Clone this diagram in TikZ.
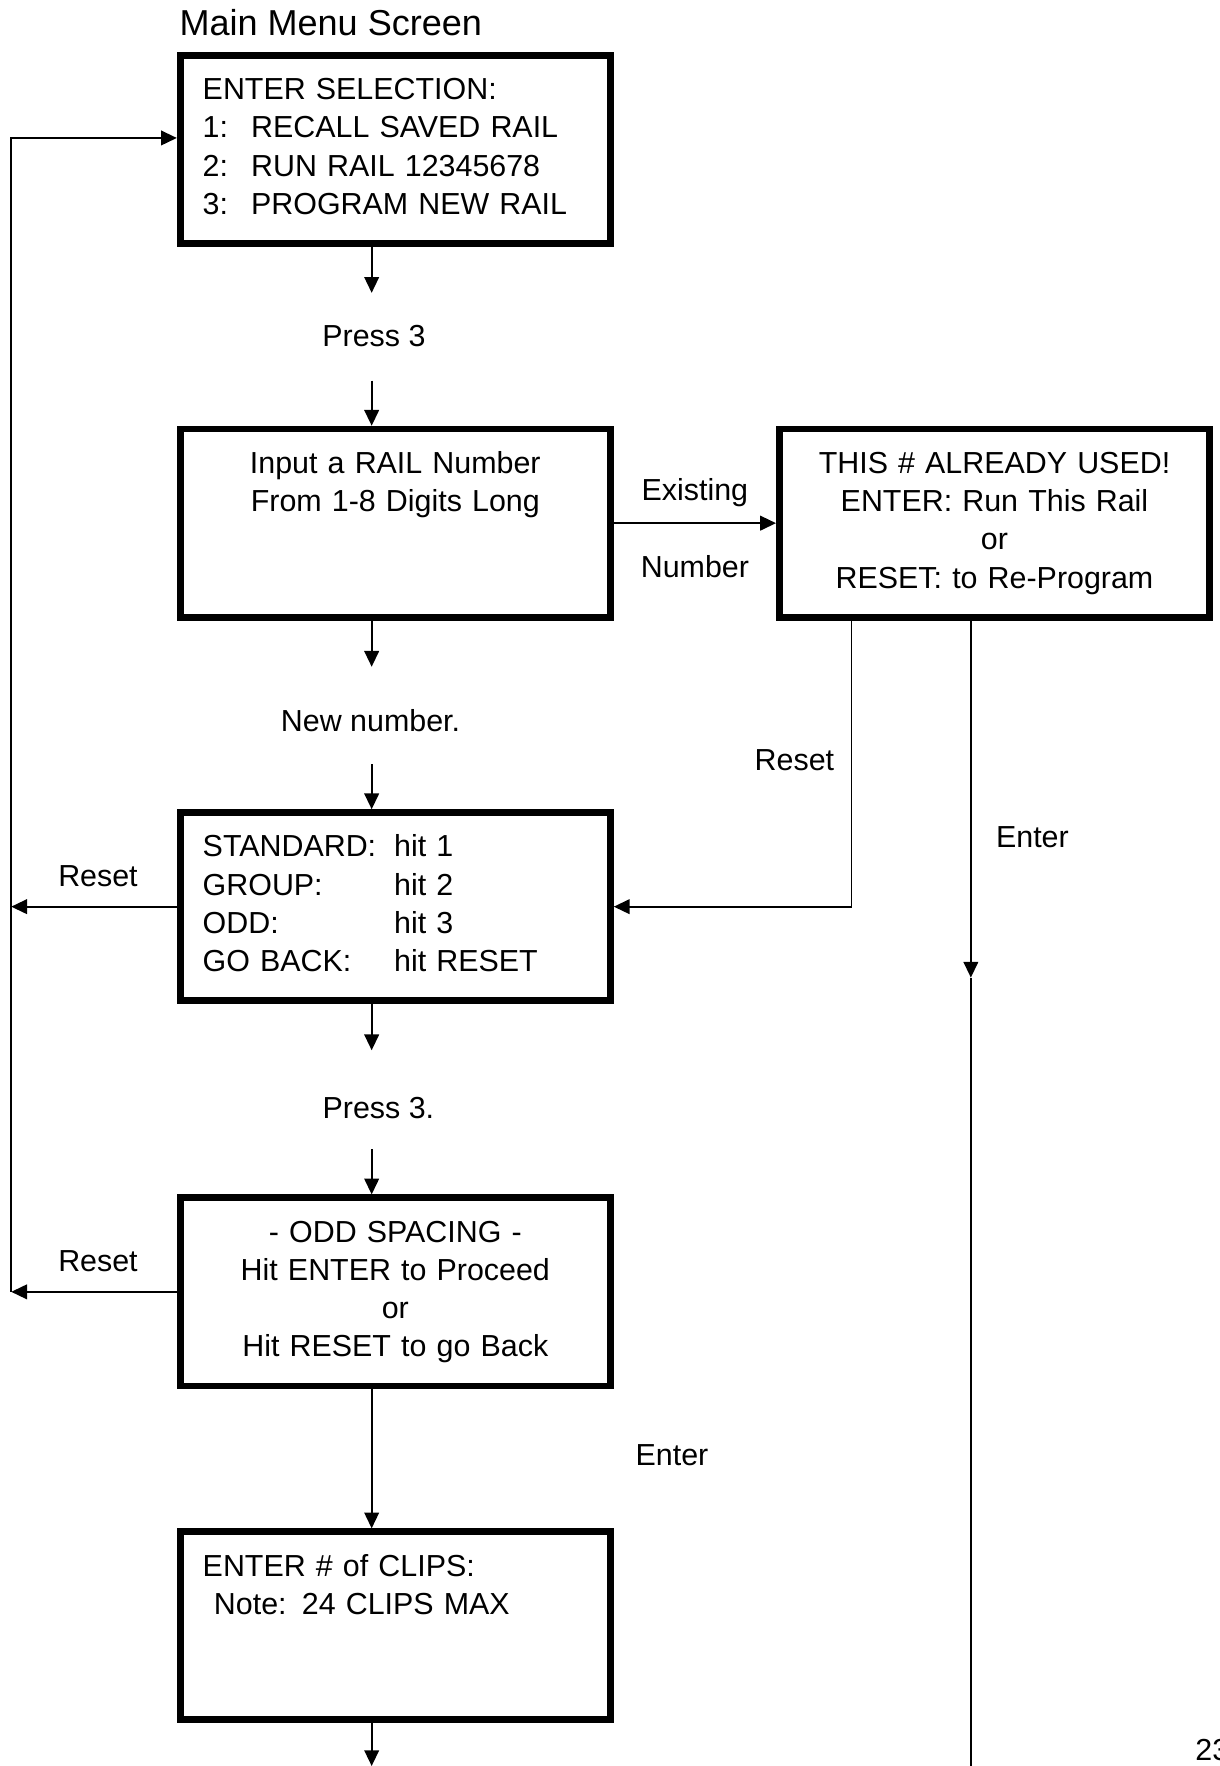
\documentclass[tikz,border=0pt]{standalone}
\usepackage{fontspec}
\setmainfont{Liberation Sans}
\usetikzlibrary{arrows.meta,calc}
\begin{document}
\begin{tikzpicture}[x=0.5pt,y=-0.5pt,
  txt/.style={font=\fontsize{13.5}{17}\selectfont},
  box/.style={txt, draw, line width=3pt, minimum width=191pt, minimum height=83.5pt,
    text width=171pt, inner xsep=10pt, inner ysep=0pt,
    execute at begin node=\strut, execute at end node=\strut},
  lbox/.style={box, align=left},
  cbox/.style={box, align=center},
  lab/.style={txt, inner sep=0pt},
  arr/.style={line width=0.8pt, -{Triangle[length=7pt,width=6.5pt]}},
  ln/.style={line width=0.8pt}]
\useasboundingbox (0,0) rectangle (1083,1568);

\node[lab, font=\fontsize{16}{19}\selectfont, anchor=west] (title) at (159,20) {Main Menu Screen};

\node[lbox] (b1) at (351,132.5) {ENTER SELECTION:\\\makebox[21.5pt][l]{1:}RECALL SAVED RAIL\\\makebox[21.5pt][l]{2:}RUN RAIL 12345678\\\makebox[21.5pt][l]{3:}PROGRAM NEW RAIL};
\node[cbox] (b2) at (351,464.5) {Input a RAIL Number\\From 1-8 Digits Long\\\strut\\\strut};
\node[cbox] (b3) at (883,464.5) {THIS \# ALREADY USED!\\ENTER: Run This Rail\\or\\RESET: to Re-Program};
\node[lbox] (b4) at (351,805) {\makebox[85pt][l]{STANDARD:}hit 1\\\makebox[85pt][l]{GROUP:}hit 2\\\makebox[85pt][l]{ODD:}hit 3\\\makebox[85pt][l]{GO BACK:}hit RESET};
\node[cbox] (b5) at (351,1147) {- ODD SPACING -\\Hit ENTER to Proceed\\or\\Hit RESET to go Back};
\node[lbox] (b6) at (351,1443.5) {ENTER \# of CLIPS:\\\hspace*{5pt}Note: 24 CLIPS MAX\\\strut\\\strut};

\node[lab] (p1) at (332,298) {Press 3};
\node[lab] (p2) at (329,640) {New number.};
\node[lab] (p3) at (336,984) {Press 3.};

\coordinate (col) at (330,0);
\coordinate (lcol) at (10,0);
\coordinate (rcol) at (756,0);
\coordinate (emid) at (862,868);
\coordinate (ebot) at (862,1570);
\coordinate (fbot) at (330,1568);

% main column
\draw[arr] (b1.south -| col) -- ++(0,41);
\draw[arr] ($(b2.north -| col)+(0,-40)$) -- (b2.north -| col);
\draw[arr] (b2.south -| col) -- ++(0,41);
\draw[arr] ($(b4.north -| col)+(0,-40)$) -- (b4.north -| col);
\draw[arr] (b4.south -| col) -- ++(0,41);
\draw[arr] ($(b5.north -| col)+(0,-40)$) -- (b5.north -| col);
\draw[arr] (b5.south -| col) -- (b6.north -| col);
\draw[arr] (b6.south -| col) -- (fbot);

% existing number
\draw[arr] (b2.east) -- (b3.west)
  node[lab, pos=0.5, anchor=base, yshift=10pt] (ex) {Existing}
  node[lab, pos=0.5, anchor=base, yshift=-24pt] (nu) {Number};

% reset from b3
\draw[arr] (b3.south -| rcol) |- (b4.east);
\node[lab, anchor=east] (r3) at (741,675) {Reset};

% enter from b3
\draw[arr] (b3.south -| emid) -- (emid);
\draw[ln] (emid) -- (ebot);
\node[lab, anchor=west] (e3) at (884,743) {Enter};

% left resets
\draw[arr] (b4.west) -- (b4.west -| lcol);
\draw[arr] (b5.west) -- (b5.west -| lcol);
\coordinate (b1in) at ($(b1.west)+(0,-10)$);
\draw[arr] (b5.west -| lcol) |- (b1in);
\node[lab] (r4) at (87,778) {Reset};
\node[lab] (r5) at (87,1120) {Reset};

\node[lab, anchor=west] (e5) at (564,1292) {Enter};

\node[lab, anchor=base west] (pg) at (1061,1563) {23};
\end{tikzpicture}
\end{document}
